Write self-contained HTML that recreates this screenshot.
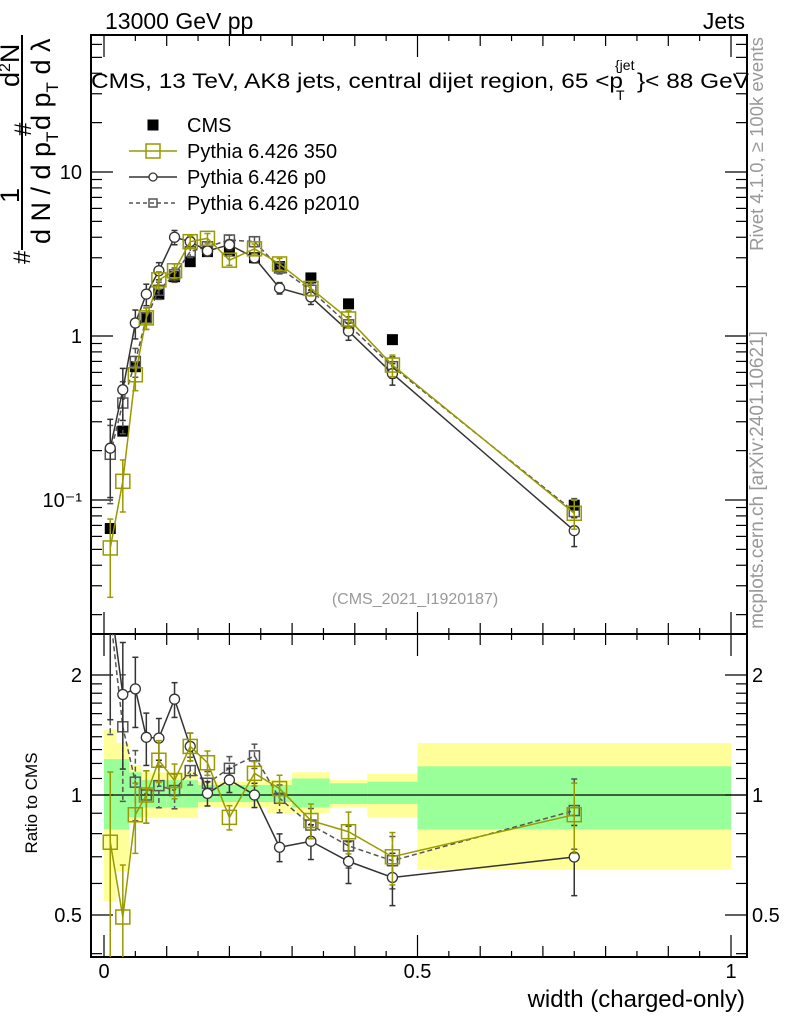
<!DOCTYPE html>
<html><head><meta charset="utf-8"><style>
body{margin:0;background:#fff;}
svg{display:block;font-family:"Liberation Sans",sans-serif;}
</style></head><body>
<svg id="c" width="786" height="1024" viewBox="0 0 786 1024">
<g id="bands"></g>
<g id="axes"></g>
<g id="series"></g>
<text x="105" y="29" font-size="23">13000 GeV pp</text>
<text x="745" y="29" font-size="23" text-anchor="end">Jets</text>
<g font-size="21">
<text x="91" y="88" textLength="532" lengthAdjust="spacingAndGlyphs">CMS, 13 TeV, AK8 jets, central dijet region, 65 &lt;p</text>
<text x="615" y="70" font-size="14">{jet</text>
<text x="616" y="100" font-size="14">T</text>
<text x="637" y="88" textLength="112" lengthAdjust="spacingAndGlyphs">}&lt; 88 GeV</text>
</g>
<text x="415" y="604" font-size="16" fill="#999" text-anchor="middle">(CMS_2021_I1920187)</text>
<text x="745" y="1007" font-size="24" text-anchor="end">width (charged-only)</text>
<text transform="translate(37,803) rotate(-90)" font-size="17" text-anchor="middle">Ratio to CMS</text>
<text transform="translate(763,144) rotate(-90)" font-size="18.5" fill="#999" text-anchor="middle">Rivet 4.1.0, ≥ 100k events</text>
<text transform="translate(763,480) rotate(-90)" font-size="19" fill="#999" text-anchor="middle">mcplots.cern.ch [arXiv:2401.10621]</text>
<g font-size="27">
<line x1="22" y1="35" x2="22" y2="250" stroke="#000" stroke-width="2"/>
<text transform="translate(30,264) rotate(-90)" font-size="24">#</text>
<text transform="translate(19,203) rotate(-90)">1</text>
<text transform="translate(19,87) rotate(-90)">d<tspan font-size="16" dy="-9">2</tspan><tspan dy="9">N</tspan></text>
<text transform="translate(50,244) rotate(-90)">d N / d p<tspan font-size="17" dy="8">T</tspan></text>
<text transform="translate(31,136) rotate(-90)" font-size="24">#</text>
<text transform="translate(50,130) rotate(-90)">d p<tspan font-size="17" dy="8">T</tspan><tspan dy="-8">  d λ</tspan></text>
</g>
<g id="legend"></g>
</svg>
<script>
const edges=[0,0.02,0.04,0.06,0.075,0.1,0.125,0.15,0.18,0.22,0.26,0.3,0.36,0.42,0.5,1.0];
const centers=[0.01,0.03,0.05,0.0675,0.0875,0.1125,0.1375,0.165,0.2,0.24,0.28,0.33,0.39,0.46,0.75];
const cms=[0.067,0.263,0.65,1.29,1.8,2.3,2.84,3.27,3.3,3.0,2.65,2.26,1.57,0.95,0.093];
const yellowUp=[1.46,1.35,1.19,1.14,1.14,1.14,1.14,1.08,1.08,1.08,1.09,1.14,1.09,1.13,1.35];
const yellowDn=[0.54,0.645,0.85,0.875,0.875,0.875,0.875,0.93,0.93,0.93,0.9,0.9,0.93,0.88,0.65];
const greenUp=[1.23,1.23,1.14,1.09,1.09,1.09,1.09,1.06,1.06,1.06,1.06,1.1,1.07,1.08,1.18];
const greenDn=[0.82,0.82,0.88,0.93,0.93,0.93,0.93,0.96,0.96,0.96,0.96,0.93,0.95,0.95,0.82];
const p350=[0.051,0.13,0.58,1.29,2.2,2.5,3.76,3.94,2.9,3.4,2.75,1.95,1.27,0.665,0.083];
const p0=[0.207,0.47,1.2,1.8,2.5,4.0,3.76,3.3,3.6,3.0,1.96,1.73,1.07,0.59,0.065];
const p2010=[0.19,0.39,0.7,1.29,1.9,2.36,3.27,3.5,3.85,3.76,2.6,1.9,1.17,0.65,0.085];
const mcRelErr=[0.5,0.35,0.2,0.15,0.12,0.1,0.08,0.07,0.07,0.07,0.08,0.1,0.12,0.15,0.2];
const xTicks=[0,0.5,1];
const xTickLabels=["0","0.5","1"];
const mainTicks=[0.1,1,10];
const mainTickLabels=["10⁻¹","1","10"];
const ratioTicks=[0.5,1,2];
const ratioTickLabels=["0.5","1","2"];

const NS="http://www.w3.org/2000/svg";
const L=91,R=747,T=35,MB=634,RB=957;
const X=v=>104+627*v;
const Ym=v=>336-164*Math.log10(v);
const Yr=v=>795-398.7*Math.log10(v);
function mk(tag,attrs,parent){const e=document.createElementNS(NS,tag);for(const k in attrs)e.setAttribute(k,attrs[k]);parent.appendChild(e);return e;}
const bands=document.getElementById('bands'),axes=document.getElementById('axes'),ser=document.getElementById('series'),leg=document.getElementById('legend');
const clip=mk('clipPath',{id:'cm'},document.getElementById('c'));mk('rect',{x:L,y:T,width:R-L,height:MB-T},clip);
const clipr=mk('clipPath',{id:'cr'},document.getElementById('c'));mk('rect',{x:L,y:MB,width:R-L,height:RB-MB},clipr);
bands.setAttribute('clip-path','url(#cr)');
for(let i=0;i<centers.length;i++){
  const x0=X(edges[i]),x1=X(edges[i+1]);
  const y=mk('rect',{x:x0,y:Yr(yellowUp[i]),width:x1-x0,height:Yr(yellowDn[i])-Yr(yellowUp[i]),fill:'#ffff99'},bands);
  
  const g=mk('rect',{x:x0,y:Yr(greenUp[i]),width:x1-x0,height:Yr(greenDn[i])-Yr(greenUp[i]),fill:'#99ff99'},bands);
  
}
mk('rect',{x:L,y:T,width:R-L,height:RB-T,fill:'none',stroke:'#000','stroke-width':2},axes);
mk('line',{x1:L,y1:MB,x2:R,y2:MB,stroke:'#000','stroke-width':2},axes);
mk('line',{x1:L,y1:Yr(1),x2:R,y2:Yr(1),stroke:'#000','stroke-width':1.2},axes);
for(let k=0;k<=20;k++){const v=k*0.05,x=X(v);if(x>R)break;const len=(k%10==0)?22:(k%2==0?11:6);
 for(const [yb,dir] of [[MB,-1],[T,1],[RB,-1],[MB,1]]){mk('line',{x1:x,y1:yb,x2:x,y2:yb+dir*len,stroke:'#000','stroke-width':1.2},axes);}}
xTicks.forEach((v,i)=>{const t=mk('text',{x:X(v),y:978,'font-size':20,'text-anchor':'middle'},axes);t.textContent=xTickLabels[i];});
for(let d=-2;d<=1;d++)for(let m=1;m<=9;m++){const v=m*Math.pow(10,d),y=Ym(v);if(y<T||y>MB)continue;const len=m==1?22:11;
 mk('line',{x1:L,y1:y,x2:L+len,y2:y,stroke:'#000','stroke-width':1.2},axes);mk('line',{x1:R,y1:y,x2:R-len,y2:y,stroke:'#000','stroke-width':1.2},axes);}
mainTicks.forEach((v,i)=>{const t=mk('text',{x:82,y:Ym(v)+7,'font-size':20,'text-anchor':'end'},axes);t.textContent=mainTickLabels[i];});
[0.4,0.5,0.6,0.7,0.8,0.9,1,1.1,1.2,1.3,1.4,1.5,1.6,1.7,1.8,1.9,2].forEach(v=>{const y=Yr(v);if(y<MB||y>RB)return;const len=(v==0.5||v==1||v==2)?22:11;
 mk('line',{x1:L,y1:y,x2:L+len,y2:y,stroke:'#000','stroke-width':1.2},axes);mk('line',{x1:R,y1:y,x2:R-len,y2:y,stroke:'#000','stroke-width':1.2},axes);});
ratioTicks.forEach((v,i)=>{const t=mk('text',{x:82,y:Yr(v)+7,'font-size':20,'text-anchor':'end'},axes);t.textContent=ratioTickLabels[i];
 const t2=mk('text',{x:752,y:Yr(v)+7,'font-size':20},axes);t2.textContent=ratioTickLabels[i];});

function marker(type,x,y,col,size,p){
  if(type=='fsq')return mk('rect',{x:x-5.5,y:y-5.5,width:11,height:11,fill:'#000'},p);
  if(type=='sq')return mk('rect',{x:x-size,y:y-size,width:2*size,height:2*size,fill:'none',stroke:col,'stroke-width':1.5},p);
  return mk('circle',{cx:x,cy:y,r:size,fill:'#fff',stroke:col,'stroke-width':1.3},p);
}
function drawSeries(vals,col,type,size,dash,name){
  for(const [fy,clipId,isRatio] of [[Ym,'cm',false],[Yr,'cr',true]]){
    const g=mk('g',{'clip-path':'url(#'+clipId+')'},ser);
    
    
    const val=i=>isRatio?vals[i]/cms[i]:vals[i];
    let d='';centers.forEach((c,i)=>{d+=(i?'L':'M')+X(c)+','+fy(val(i));});
    mk('path',{d:d,fill:'none',stroke:col,'stroke-width':1.5,'stroke-dasharray':dash||'none'},g);
    centers.forEach((c,i)=>{const v=val(i),x=X(c),e=mcRelErr[i];
      const y1=fy(v*(1+e)),y2=fy(Math.max(v*(1-e),1e-4));
      mk('line',{x1:x,y1:y1,x2:x,y2:y2,stroke:col,'stroke-width':1.5,'stroke-dasharray':dash||'none'},g);
      mk('line',{x1:x-3,y1:y1,x2:x+3,y2:y1,stroke:col,'stroke-width':1.5},g);
      mk('line',{x1:x-3,y1:y2,x2:x+3,y2:y2,stroke:col,'stroke-width':1.5},g);
      const m=marker(type,x,fy(v),col,size,g);});
  }
}
const gc=mk('g',{'clip-path':'url(#cm)'},ser);


centers.forEach((c,i)=>{const m=marker('fsq',X(c),Ym(cms[i]),'#000',5,gc);});
drawSeries(p2010,'#555','sq',5,'5,3','pythia-p2010');
drawSeries(p0,'#333','circ',5,null,'pythia-p0');
drawSeries(p350,'#999900','sq',7,null,'pythia-350');
const items=[['CMS','fsq','#000',null,0],['Pythia 6.426 350','sq','#999900',null,7],['Pythia 6.426 p0','circ','#333',null,4],['Pythia 6.426 p2010','sq','#555','4,3',4]];
items.forEach((it,i)=>{const y=125+26*i;const g=mk('g',{},leg);
 
 
 if(it[1]!='fsq')mk('line',{x1:129,y1:y,x2:177,y2:y,stroke:it[2],'stroke-width':1.5,'stroke-dasharray':it[3]||'none'},g);
 marker(it[1],153,y,it[2],it[4],g);
 const t=mk('text',{x:187,y:y+7,'font-size':20},g);t.textContent=it[0];});
</script>
</body></html>
